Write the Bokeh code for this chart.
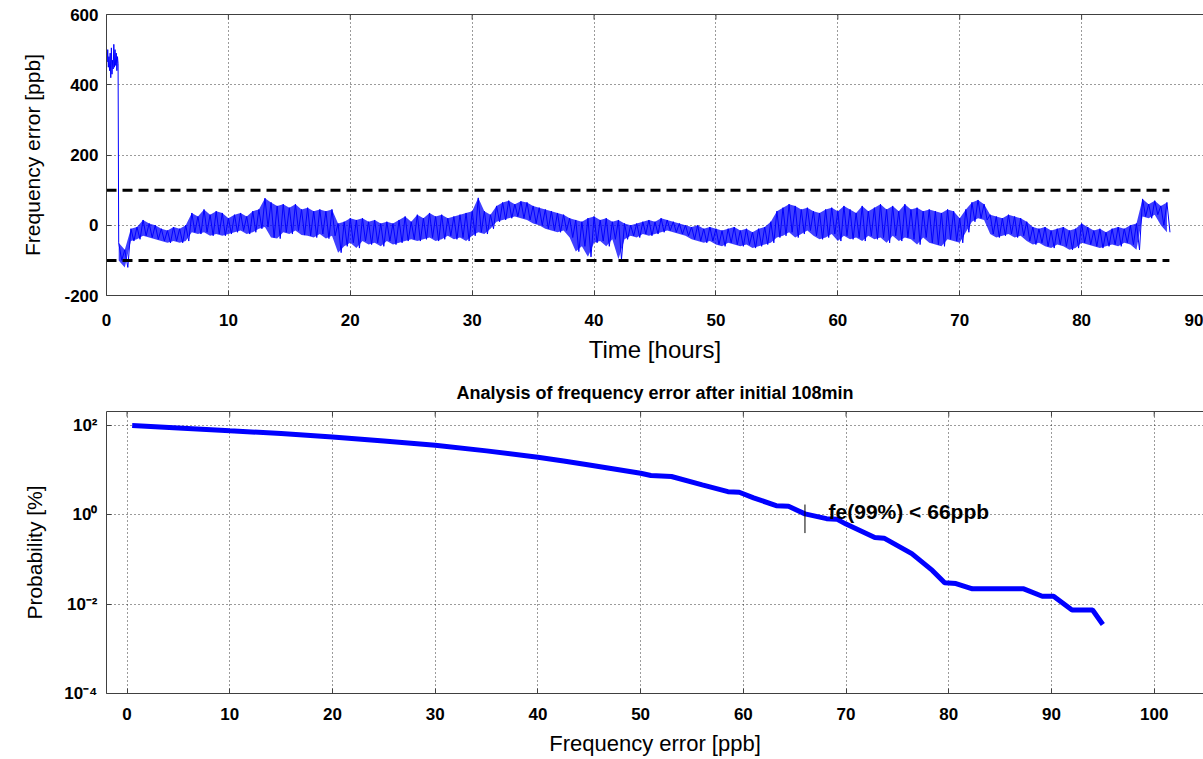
import math
from bokeh.plotting import figure
from bokeh.layouts import column
from bokeh.models import Range1d, LinearAxis, FixedTicker, Label
from bokeh.embed import file_html
from bokeh.resources import INLINE

# ---------------- data ----------------
# initial period (before the lock), hours with upper/lower noise extent [ppb]
init_t  = [0.0, 0.1, 0.2, 0.3, 0.4, 0.5, 0.6, 0.7, 0.8, 0.9]
init_hi = [495, 500, 480, 490, 505, 470, 515, 500, 490, 480]
init_lo = [465, 450, 440, 420, 430, 445, 450, 455, 440, 460]

# after lock: time [hours], upper and lower extent of the noisy trace [ppb]
env_t = [1.0, 1.5, 2.0, 2.5, 3.0, 3.5, 4.0, 4.5, 5.0, 5.5, 6.0, 6.5, 7.0, 7.5, 8.0, 8.5,
         9.0, 9.5, 10.0, 10.5, 11.0, 11.5, 12.0, 12.5, 13.0, 13.5, 14.0, 14.5, 15.0, 15.5,
         16.0, 16.5, 17.0, 17.5, 18.0, 18.5, 19.0, 19.5, 20.0, 20.5, 21.0, 21.5, 22.0, 22.5,
         23.0, 23.5, 24.0, 24.5, 25.0, 25.5, 26.0, 26.5, 27.0, 27.5, 28.0, 28.5, 29.0, 29.5,
         30.0, 30.5, 31.0, 31.5, 32.0, 32.5, 33.0, 33.5, 34.0, 34.5, 35.0, 35.5, 36.0, 36.5,
         37.0, 37.5, 38.0, 38.5, 39.0, 39.5, 40.0, 40.5, 41.0, 41.5, 42.0, 42.5, 43.0, 43.5,
         44.0, 44.5, 45.0, 45.5, 46.0, 46.5, 47.0, 47.5, 48.0, 48.5, 49.0, 49.5, 50.0, 50.5,
         51.0, 51.5, 52.0, 52.5, 53.0, 53.5, 54.0, 54.5, 55.0, 55.5, 56.0, 56.5, 57.0, 57.5,
         58.0, 58.5, 59.0, 59.5, 60.0, 60.5, 61.0, 61.5, 62.0, 62.5, 63.0, 63.5, 64.0, 64.5,
         65.0, 65.5, 66.0, 66.5, 67.0, 67.5, 68.0, 68.5, 69.0, 69.5, 70.0, 70.5, 71.0, 71.5,
         72.0, 72.5, 73.0, 73.5, 74.0, 74.5, 75.0, 75.5, 76.0, 76.5, 77.0, 77.5, 78.0, 78.5,
         79.0, 79.5, 80.0, 80.5, 81.0, 81.5, 82.0, 82.5, 83.0, 83.5, 84.0, 84.5, 85.0, 85.5,
         86.0, 86.5, 87.0]
env_hi = [-50, -70, -10, -5, 15, 5, 0, -10, -15, -5, -10, 0, 35, 25, 45, 30,
          40, 35, 20, 30, 35, 25, 40, 45, 77, 65, 55, 60, 50, 60,
          45, 50, 40, 45, 40, 45, 5, 10, 20, 15, 20, 10, 15, 5,
          10, 5, 15, 25, 10, 30, 20, 35, 25, 30, 20, 25, 30, 35,
          40, 78, 40, 30, 55, 65, 70, 60, 68, 65, 55, 50, 45, 40,
          35, 30, 20, 15, 10, 20, 25, 15, 20, 10, 15, 5, 0, 5,
          10, 15, 10, 20, 15, 10, 5, 0, -5, 0, -10, -5, -10, -15,
          -10, -5, -15, -10, -20, -10, -5, 10, 40, 50, 60, 55, 45, 50,
          40, 35, 45, 50, 40, 55, 45, 35, 55, 40, 50, 60, 45, 55,
          40, 60, 45, 50, 40, 45, 40, 35, 45, 40, 20, 45, 65, 72,
          60, 30, 25, 20, 30, 25, 20, 10, -5, -10, -5, -15, -10, -5,
          -15, -10, 5, -5, -15, -10, -20, -10, -5, -10, 0, 5, 75, 60,
          70, 55, 65]
env_lo = [-100, -120, -45, -40, -30, -35, -40, -45, -50, -45, -50, -45, -20, -25, -20, -30,
          -25, -30, -25, -20, -15, -25, -20, -10, -5, -35, -38, -20, -25, -15,
          -28, -30, -35, -25, -38, -30, -78, -60, -50, -65, -45, -55, -50, -60,
          -45, -55, -50, -45, -40, -45, -40, -35, -45, -40, -30, -40, -35, -45,
          -30, -20, -25, -10, 10, 15, 20, 25, 20, 15, 5, 0, -10, -15,
          -20, -15, -35, -75, -60, -90, -50, -45, -60, -40, -97, -40, -30, -35,
          -25, -30, -25, -20, -15, -20, -25, -30, -40, -45, -50, -45, -55, -60,
          -50, -55, -60, -55, -65, -60, -55, -50, -35, -30, -20, -35, -25, -15,
          -30, -40, -35, -25, -45, -30, -40, -35, -45, -30, -40, -35, -50, -30,
          -45, -35, -40, -55, -35, -50, -55, -60, -40, -45, -50, -20, 10, 20,
          15, -25, -35, -30, -25, -35, -30, -45, -55, -50, -60, -65, -55, -60,
          -70, -65, -50, -55, -60, -65, -60, -55, -60, -50, -55, -70, 25, 20,
          30, 0, -20]

limit_t = [0.0, 87.2]
limit_hi = [100, 100]
limit_lo = [-100, -100]

time_ticks = [0, 10, 20, 30, 40, 50, 60, 70, 80, 90]
fe_ticks = [-200, 0, 200, 400, 600]
fe_labels = {-200: "-200"}

# complementary distribution of |frequency error| after the initial 108 min
fe_ppb = [0.5, 5, 10, 15, 20, 25, 30, 35, 40, 42.5, 45, 50, 51, 53, 56, 58.5, 59.6, 61,
          63.2, 64.4, 66, 68.1, 69.1, 70, 72.8, 73.7, 76.4, 78.4, 79.6, 80.7, 82.3, 87.3,
          89.1, 90.2, 92.0, 94.0, 95.0]
prob_pct = [100, 88, 76, 66, 55, 45, 36, 27, 19.5, 16, 13, 8.5, 7.6, 7.2, 4.7, 3.3, 3.2, 2.4,
            1.6, 1.55, 1.05, 0.82, 0.8, 0.62, 0.31, 0.3, 0.135, 0.057, 0.03, 0.029, 0.022, 0.022,
            0.015, 0.015, 0.0074, 0.0074, 0.0035]
fe99 = 66
fe99_mark = [1.7, 0.39]
ppb_ticks = [0, 10, 20, 30, 40, 50, 60, 70, 80, 90, 100]
prob_ticks = [1e-4, 1e-2, 1e0, 1e2]
prob_labels = {1e-4: "10\u207b\u2074", 1e-2: "10\u207b\u00b2", 1e0: "10\u2070", 1e2: "10\u00b2"}

FONT = "Liberation Sans"
AX = "#404040"
BLUE = "#0000ff"


def style(p, xticks, yticks, ytop):
    bottom, left = p.below[0], p.left[0]
    for ax in (bottom, left):
        ax.ticker = FixedTicker(ticks=xticks if ax is bottom else yticks)
        ax.axis_line_color = AX
        ax.major_tick_line_color = AX
        ax.major_tick_in = 5
        ax.major_tick_out = 0
        ax.minor_tick_line_color = None
        ax.major_label_text_font = FONT
        ax.major_label_text_font_size = "17px"
        ax.major_label_text_font_style = "bold"
        ax.major_label_text_color = "black"
        ax.axis_label_text_font = FONT
        ax.axis_label_text_font_style = "normal"
        ax.axis_label_text_color = "black"
    for g in (p.xgrid[0], p.ygrid[0]):
        g.grid_line_color = "#222222"
        g.grid_line_dash = "1 3"
        g.grid_line_width = 1
        g.grid_line_alpha = 0.9
    p.xgrid.ticker = FixedTicker(ticks=xticks)
    p.ygrid.ticker = FixedTicker(ticks=yticks)
    # top frame line (no labels) and inward tick marks at the top edge
    top = LinearAxis(ticker=FixedTicker(ticks=[]), axis_line_color=AX,
                     major_tick_line_color=None, minor_tick_line_color=None)
    p.add_layout(top, "above")
    p.scatter(x=xticks, y=[ytop] * len(xticks), marker="dash", size=10, angle=math.pi / 2,
              line_color=AX, line_width=1)
    p.outline_line_color = None
    p.background_fill_color = "white"
    p.border_fill_color = "white"
    return bottom, left


# ---------------- top: frequency error vs time ----------------
p1 = figure(width=1203, height=365, x_range=Range1d(0, 90), y_range=Range1d(-200, 600),
            output_backend="svg", toolbar_location=None,
            min_border_left=106, min_border_right=0, min_border_top=14, min_border_bottom=70)
b1, l1 = style(p1, time_ticks, fe_ticks, 600)
l1.major_label_overrides = fe_labels

xs, ys = [], []
for t, h, l in zip(init_t, init_hi, init_lo):
    xs += [t, t + 0.05]
    ys += [h, l]
for t, h, l in zip(env_t, env_hi, env_lo):
    xs += [t, t + 0.25]
    ys += [h, l]
p1.varea(x=env_t, y1=env_lo, y2=env_hi, fill_color=BLUE, fill_alpha=0.75)
p1.line(xs, ys, line_color=BLUE, line_width=1)
p1.line(limit_t, limit_hi, line_color="black", line_width=3, line_dash="10 6")
p1.line(limit_t, limit_lo, line_color="black", line_width=3, line_dash="10 6")

b1.axis_label = "Time [hours]"
b1.axis_label_text_font_size = "24px"
b1.major_label_standoff = 18
b1.axis_label_standoff = 7
l1.axis_label = "Frequency error [ppb]"
l1.axis_label_text_font_size = "21px"
l1.major_label_standoff = 8
l1.axis_label_standoff = 17

# ---------------- bottom: distribution ----------------
p2 = figure(width=1203, height=394, x_range=Range1d(-2, 104.8), y_range=Range1d(1e-4, 205.6),
            y_axis_type="log", output_backend="svg", toolbar_location=None,
            min_border_left=106, min_border_right=0, min_border_top=46, min_border_bottom=66)
b2, l2 = style(p2, ppb_ticks, prob_ticks, 205.6)
l2.major_label_overrides = prob_labels
p2.title.text = "Analysis of frequency error after initial 108min"
p2.title.align = "center"
p2.title.text_font = FONT
p2.title.text_font_size = "18px"
p2.title.text_font_style = "bold"
p2.title.text_color = "black"
p2.title.standoff = 17

p2.line(fe_ppb, prob_pct, line_color=BLUE, line_width=5)
p2.segment(x0=[fe99], y0=[fe99_mark[0]], x1=[fe99], y1=[fe99_mark[1]], line_color="black", line_width=1)
p2.add_layout(Label(x=fe99 + 2.3, y=1.2, text="fe(99%) < 66ppb", text_font=FONT,
                    text_font_size="21px", text_font_style="bold", text_baseline="middle",
                    text_color="black"))

b2.axis_label = "Frequency error [ppb]"
b2.axis_label_text_font_size = "22px"
b2.major_label_standoff = 14
b2.axis_label_standoff = 8
l2.axis_label = "Probability [%]"
l2.axis_label_text_font_size = "21px"
l2.major_label_standoff = 9
l2.axis_label_standoff = 15

layout = column(p1, p2, spacing=0)
open("out.html", "w").write(file_html(layout, INLINE))
